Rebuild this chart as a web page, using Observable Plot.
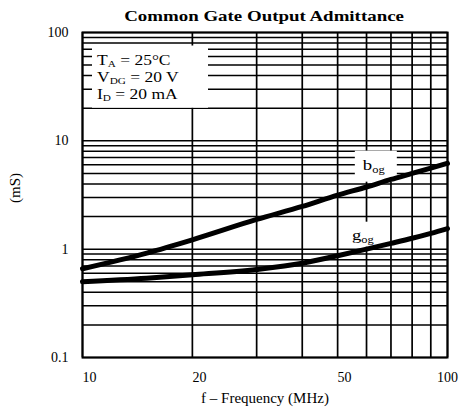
<!DOCTYPE html>
<html><head><meta charset="utf-8">
<script src="https://cdn.jsdelivr.net/npm/d3@7"></script>
<script src="https://cdn.jsdelivr.net/npm/@observablehq/plot@0.6"></script>
<style>
body{margin:0;background:#fff;}
#wrap{position:relative;width:460px;height:417px;}
#title{position:absolute;left:82px;width:365px;top:8px;text-align:center;font-family:"Liberation Serif",serif;font-weight:bold;font-size:15px;line-height:17px;color:#000;}
#title span{display:inline-block;transform:scaleX(1.26);}
</style>
</head><body>
<div id="wrap"><div id="title"><span>Common Gate Output Admittance</span></div></div>
<script>
// Data
const freq = [10, 15, 20, 30, 40, 50, 60, 70, 80, 90, 100];          // MHz
const bog  = [0.66, 0.92, 1.22, 1.88, 2.48, 3.15, 3.75, 4.4, 5.0, 5.6, 6.2]; // mS
const gog  = [0.50, 0.54, 0.58, 0.65, 0.74, 0.87, 1.0, 1.13, 1.26, 1.40, 1.55]; // mS
const xTicks = [10, 20, 50];
const xTickEnd = [100];
const yTicks = [0.1, 1, 10, 100];
const xGrid = [10, 20, 30, 40, 50, 60, 70, 80, 90, 100];
const yGrid = [0.1,0.2,0.3,0.4,0.5,0.6,0.7,0.8,0.9,1,2,3,4,5,6,7,8,9,10,20,30,40,50,60,70,80,90,100];
const conditions = [["T","A"," = 25°C"],["V","DG"," = 20 V"],["I","D"," = 20 mA"]];
const seriesLabels = [["b","og"],["g","og"]];

const rows = [];
freq.forEach((f,i)=>{ rows.push({f, v:bog[i], s:"bog"}); rows.push({f, v:gog[i], s:"gog"}); });

const FONT = "Liberation Serif";
const STRETCH = 1.25;

function boxes(index, scales, values, dims) {
  const g = d3.create("svg:g").attr("font-family", FONT).attr("fill","#000").attr("text-anchor","start");
  const sx = scales.x, sy = scales.y;
  // legend box (conditions), one multi-line text
  const lx = sx(10) + 10, ly = sy(75);
  g.append("rect").attr("x", lx).attr("y", ly).attr("width", 116).attr("height", sy(20) - ly).attr("fill","#fff");
  const t = g.append("text")
    .attr("transform", `translate(${lx + 5},${ly + 19}) scale(${STRETCH},1)`)
    .attr("font-size", 14).attr("xml:space","preserve");
  conditions.forEach((c,i)=>{
    const first = t.append("tspan").text(c[0]);
    if (i > 0) first.attr("x", 0).attr("dy", 17);
    t.append("tspan").attr("font-size", 9).attr("dy", 2.5).text(c[1]);
    t.append("tspan").attr("dy", -2.5).text(c[2]);
  });
  // series labels
  const spots = [[58.8, 5.36, 8, 11, 42, 31], [54.9, 1.21, 7, 10, 40, 25]];
  seriesLabels.forEach((s,i)=>{
    const [fx, fv, px, pyTop, w, h] = spots[i];
    const x0 = sx(fx), y0 = sy(fv);
    g.append("rect").attr("x", x0 - px).attr("y", y0 - pyTop - 8).attr("width", w).attr("height", h).attr("fill","#fff");
    const lt = g.append("text").attr("transform", `translate(${x0},${y0}) scale(${STRETCH},1)`).attr("font-size", 15);
    lt.append("tspan").text(s[0]);
    lt.append("tspan").attr("font-size", 10).attr("dy", 3).text(s[1]);
  });
  return g.node();
}

const chart = Plot.plot({
  width: 460, height: 417,
  marginTop: 32, marginBottom: 60, marginLeft: 82, marginRight: 13,
  style: {fontFamily: FONT, fontSize: "13px", color: "#000", background: "#fff"},
  x: {type: "log", domain: [10, 100]},
  y: {type: "log", domain: [0.1, 100]},
  marks: [
    Plot.ruleX(xGrid, {stroke: "#000", strokeWidth: 1.7}),
    Plot.ruleY(yGrid, {stroke: "#000", strokeWidth: 1.5}),
    boxes,
    Plot.line(rows, {x: "f", y: "v", z: "s", stroke: "#000", strokeWidth: 5, curve: "monotone-x"}),
    Plot.frame({stroke: "#000", strokeWidth: 2}),
    Plot.axisX({ticks: xTicks, tickSize: 0, tickPadding: 15, textAnchor: "start", tickFormat: d => String(d), label: null, fontSize: 14}),
    Plot.axisX({ticks: xTickEnd, tickSize: 0, tickPadding: 15, textAnchor: "middle", tickFormat: d => String(d), label: null, fontSize: 14}),
    Plot.axisY({ticks: yTicks, tickSize: 0, tickPadding: 14, tickFormat: d => String(d), label: null, fontSize: 14}),
    Plot.text(["f – Frequency (MHz)"], {text: d => d, frameAnchor: "bottom", dy: 45, fontSize: 15, letterSpacing: 1}),
    Plot.text(["(mS)"], {text: d => d, frameAnchor: "left", rotate: -90, dx: -67, dy: 8, fontSize: 15, letterSpacing: 1})
  ]
});
document.getElementById("wrap").prepend(chart);
</script>
</body></html>
